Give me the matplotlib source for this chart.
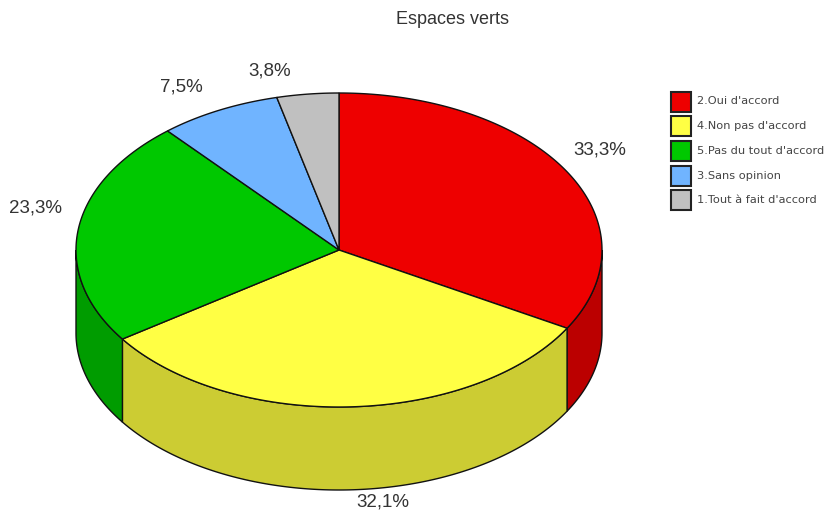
import numpy as np
import matplotlib
matplotlib.use('Agg')
import matplotlib.pyplot as plt
from matplotlib.patches import Rectangle

labels = ["2.Oui d'accord", "4.Non pas d'accord", "5.Pas du tout d'accord",
          "3.Sans opinion", "1.Tout à fait d'accord"]
values = [33.3, 32.1, 23.3, 7.5, 3.8]
value_labels = ['33,3%', '32,1%', '23,3%', '7,5%', '3,8%']
top_colors = ['#ee0000', '#ffff44', '#00c800', '#70b4ff', '#c0c0c0']
side_colors = ['#bb0000', '#cccc33', '#009c00', '#5890cc', '#989898']

# pie geometry in pixels
cx, cy = 339, 250
rx, ry = 263, 157
depth = 83

fig = plt.figure(figsize=(8.24, 5.12), dpi=100)
ax = fig.add_axes([0, 0, 1, 1])
ax.set_xlim(0, 824)
ax.set_ylim(512, 0)
ax.axis('off')


def rim(a0, a1):
    # angles measured clockwise from the top, in degrees
    n = max(int(abs(a1 - a0)) * 2, 2)
    t = np.radians(np.linspace(a0, a1, n))
    return cx + rx * np.sin(t), cy - ry * np.cos(t)


edges = np.concatenate([[0], np.cumsum(values)]) * 360 / sum(values)

# side wall, only the front half of the rim shows
for i in range(len(values)):
    a0, a1 = max(edges[i], 90), min(edges[i + 1], 270)
    if a1 <= a0:
        continue
    x, y = rim(a0, a1)
    ax.fill(np.r_[x, x[::-1]], np.r_[y, y[::-1] + depth],
            facecolor=side_colors[i], edgecolor='#111111', lw=1, zorder=2)

# top face
for i in range(len(values)):
    x, y = rim(edges[i], edges[i + 1])
    ax.fill(np.r_[cx, x], np.r_[cy, y], facecolor=top_colors[i],
            edgecolor='#111111', lw=1, zorder=3)

# value labels
label_pos = [(600, 150), (383, 502), (36, 208), (181, 87), (270, 71)]
for (lx, ly), s in zip(label_pos, value_labels):
    ax.text(lx, ly, s, ha='center', va='center', fontsize=13.5,
            family='Liberation Sans', color='#333333')

ax.text(453, 20, 'Espaces verts', ha='center', va='center', fontsize=13,
        family='Liberation Sans', color='#333333')

# legend
for i, s in enumerate(labels):
    y = 91.5 + i * 24.7
    ax.add_patch(Rectangle((671, y), 20, 20, facecolor=top_colors[i],
                           edgecolor='#222222', lw=1.5))
    ax.text(697, y + 10, s, ha='left', va='center', fontsize=8.2,
            family='DejaVu Sans', color='#444444')

fig.savefig('out.png', dpi=100)
